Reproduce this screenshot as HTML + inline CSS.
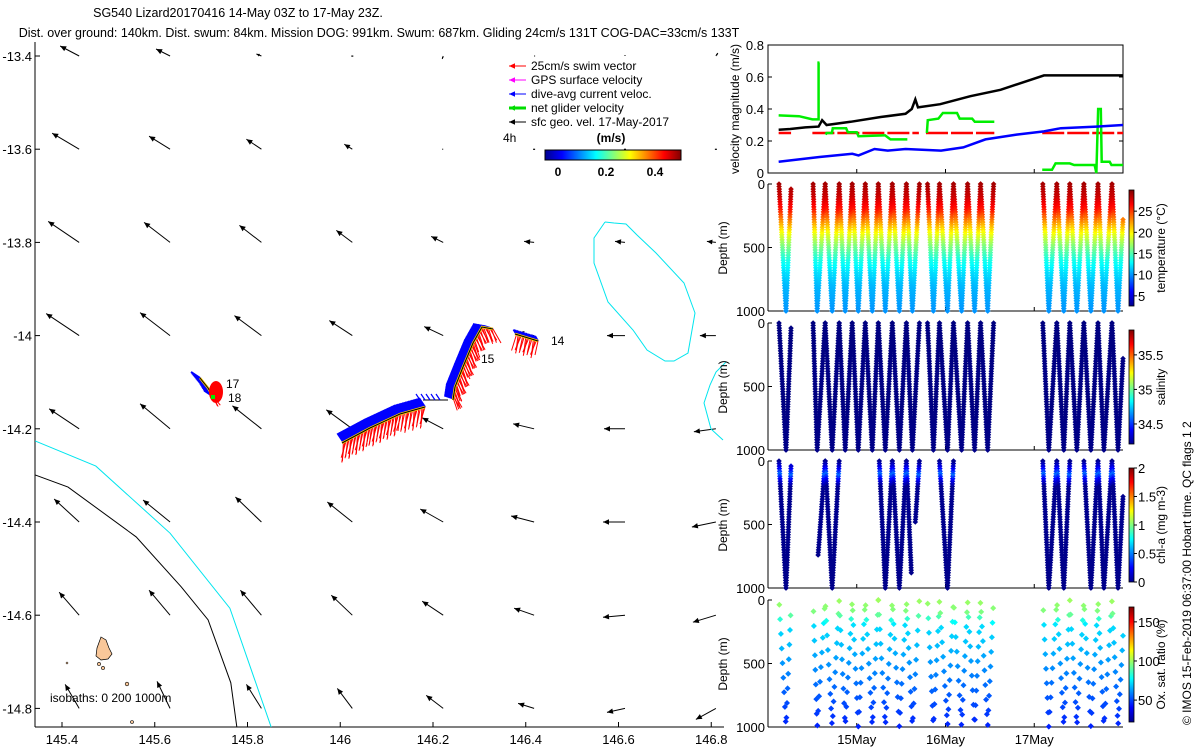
<!DOCTYPE html>
<html><head><meta charset="utf-8">
<style>
html,body{margin:0;padding:0;background:#fff;}
svg{display:block;font-family:"Liberation Sans","DejaVu Sans",sans-serif;}
</style></head>
<body>
<svg id="chart" width="1200" height="750" viewBox="0 0 1200 750" xmlns="http://www.w3.org/2000/svg">
<defs>
<linearGradient id="jetH" x1="0" x2="1" y1="0" y2="0">
<stop offset="0" stop-color="#00008f"/><stop offset="0.125" stop-color="#0000ff"/><stop offset="0.375" stop-color="#00ffff"/><stop offset="0.625" stop-color="#ffff00"/><stop offset="0.875" stop-color="#ff0000"/><stop offset="1" stop-color="#800000"/>
</linearGradient>
<linearGradient id="jetV" x1="0" x2="0" y1="1" y2="0">
<stop offset="0" stop-color="#00008f"/><stop offset="0.125" stop-color="#0000ff"/><stop offset="0.375" stop-color="#00ffff"/><stop offset="0.625" stop-color="#ffff00"/><stop offset="0.875" stop-color="#ff0000"/><stop offset="1" stop-color="#800000"/>
</linearGradient>
</defs>
<text x="238" y="17" font-size="12.5" text-anchor="middle">SG540 Lizard20170416 14-May 03Z to 17-May 23Z.</text>
<text x="379" y="37" font-size="12.5" text-anchor="middle">Dist. over ground: 140km. Dist. swum: 84km. Mission DOG: 991km. Swum: 687km. Gliding 24cm/s 131T COG-DAC=33cm/s 133T</text>

<g id="map"></g>
<g id="isob">
<polyline fill="none" stroke="#00e5ee" stroke-width="1" points="605,222 614,223 626,224 637,235 656,253 684,283 695,313 688,353 674,361 665,361 647,350 633,330 608,302 594,263 594,238 605,222"/>
<polyline fill="none" stroke="#00e5ee" stroke-width="1" points="726,362 716,372 710,385 704,403 711,429 723,440"/>
<path d="M101,637 L106,640 L109,648 L112,654 L108,659 L101,660 L96,656 L97,648 Z" fill="#f9c799" stroke="#000" stroke-width="0.7"/>
<circle cx="99" cy="664" r="1.6" fill="#f9c799" stroke="#000" stroke-width="0.6"/>
<circle cx="103" cy="668" r="1.6" fill="#f9c799" stroke="#000" stroke-width="0.6"/>
<circle cx="127" cy="684" r="1.8" fill="#f9c799" stroke="#000" stroke-width="0.6"/>
<circle cx="132" cy="722" r="1.5" fill="#f9c799" stroke="#000" stroke-width="0.6"/>
<circle cx="67" cy="663" r="1" fill="#f9c799" stroke="#000" stroke-width="0.5"/>
</g>
<text x="50" y="702" font-size="12">isobaths: 0   200  1000m</text>

<g id="track"></g>
<text x="226" y="388" font-size="12">17</text>
<text x="228" y="402" font-size="12">18</text>
<text x="481" y="363" font-size="12">15</text>
<text x="551" y="345" font-size="12">14</text>

<g id="legend"></g>

<g id="vel"></g>
<g id="prof"></g>
<text transform="translate(1191,725) rotate(-90)" font-size="12">© IMOS 15-Feb-2019 06:37:00 Hobart time. QC flags 1  2</text>
</svg>
<script>
// ---------- data ----------
const geoLon = [145.437,145.633,145.830,146.026,146.222,146.418,146.614,146.810];
const geoLat = [-13.4,-13.6,-13.8,-14.0,-14.2,-14.4,-14.6,-14.8];
const geoU = [
 [-19,-14,-5,0,-1,1,0,2],
 [-27,-21,-15,-8,-1,0,0,0],
 [-31,-26,-22,-16,-12,-10,-10,-9],
 [-33,-30,-27,-23,-19,-16,-18,-16],
 [-30,-30,-29,-26,-21,-21,-21,-22],
 [-25,-27,-26,-25,-23,-23,-22,-24],
 [-20,-21,-21,-21,-21,-20,-22,-23],
 [-14,-13,-15,-15,-17,-16,-18,-20]];
const geoV = [
 [10,7,2,0,-3,0,1,3],
 [16,13,10,5,0,0,0,0],
 [21,20,17,12,6,1,1,1],
 [22,23,20,15,9,3,0,0],
 [20,25,23,19,11,5,0,-3],
 [23,22,25,20,13,6,0,-5],
 [23,25,25,20,14,7,-2,-7],
 [24,27,24,20,13,5,-4,-11]];
const latTicks = [-13.4,-13.6,-13.8,-14,-14.2,-14.4,-14.6,-14.8];
const lonTicks = [145.4,145.6,145.8,146,146.2,146.4,146.6,146.8];
const isoBlackLon = [145.342,145.413,145.560,145.657,145.715,145.764,145.777];
const isoBlackLat = [-14.299,-14.325,-14.432,-14.539,-14.610,-14.745,-14.840];
const isoCyanLon = [145.342,145.473,145.633,145.762,145.851];
const isoCyanLat = [-14.226,-14.280,-14.424,-14.585,-14.840];

const velTicks = [0,0.2,0.4,0.6,0.8];
const blackT = [0.12,0.25,0.42,0.57,0.61,0.66,0.93,1.27,1.55,1.62,1.66,1.69,1.94,2.28,2.62,3.11,4.0];
const blackV = [0.27,0.275,0.285,0.29,0.33,0.30,0.32,0.35,0.37,0.40,0.46,0.41,0.43,0.48,0.52,0.61,0.61];
const blueT = [0.12,0.58,0.95,1.02,1.2,1.35,1.55,1.95,2.2,2.45,2.8,3.11,3.3,3.7,4.0];
const blueV = [0.07,0.10,0.12,0.11,0.15,0.14,0.15,0.14,0.16,0.21,0.24,0.26,0.28,0.29,0.30];
const redSegStart = [0.12,0.5,1.78,3.09];
const redSegEnd = [0.26,1.7,2.55,4.0];
const redV = 0.25;
const greenT = [
 [0.12,0.35,0.5,0.57,0.57,0.58],
 [0.65,0.66,0.72,0.73,0.88,0.9,1.0,1.02,1.3,1.32,1.38,1.57],
 [1.79,1.8,1.92,1.97,2.13,2.16,2.3,2.33,2.55],
 [3.09,3.2,3.24,3.4,3.45,3.68,3.7,3.72,3.75,3.76,3.85,3.87,4.0]];
const greenV = [
 [0.36,0.355,0.335,0.335,0.69,0.69],
 [0.24,0.25,0.25,0.28,0.28,0.255,0.255,0.23,0.235,0.235,0.21,0.21],
 [0.25,0.33,0.34,0.375,0.375,0.34,0.34,0.32,0.32],
 [0.02,0.02,0.06,0.06,0.05,0.05,0.0,0.40,0.40,0.07,0.07,0.05,0.05]];

const diveT = [
 [0.124,0.203,0.260],
 [0.508,0.554,0.644,0.723,0.802,0.870,0.949,1.017,1.096,1.175,1.243,1.322,1.401,1.480,1.559,1.627,1.706],
 [1.797,1.864,1.932,2.023,2.090,2.181,2.249,2.328,2.395,2.475,2.542],
 [3.096,3.164,3.254,3.333,3.401,3.480,3.559,3.638,3.718,3.785,3.876,3.944,4.0]];
const diveD = [
 [0,1000,30],
 [0,1000,0,1000,0,1000,0,1000,0,1000,0,1000,0,1000,0,1000,0],
 [0,1000,0,1000,0,1000,0,1000,0,1000,0],
 [0,1000,0,1000,0,1000,0,1000,0,1000,0,1000,280]];
const chlT = [
 [0.124,0.203,0.260],[0.565,0.644,0.723,0.802],[1.254,1.322,1.401,1.480,1.559,1.615],[1.660,1.706],
 [1.932,2.023,2.090],[3.096,3.164,3.254,3.333,3.401],[3.559,3.638,3.718,3.785,3.876,3.944,4.0]];
const chlD = [
 [0,1000,30],[740,0,1000,0],[0,1000,0,1000,0,880],[480,0],
 [0,1000,0],[0,1000,0,1000,0],[0,1000,0,1000,0,1000,280]];
const tempDepth = [0,100,200,300,400,500,600,700,800,900,1000];
const tempVal = [29,28,26,22.5,19,16,13.5,12,11,10.5,10];
const salDepth = [0,200,400,600,800,1000];
const salVal = [34.2,34.21,34.22,34.21,34.22,34.22];
const chlDepth = [0,50,100,150,200,1000];
const chlVal = [0.03,0.2,0.45,0.2,0.03,0.02];
const oxDepth = [0,100,200,300,500,700,1000];
const oxVal = [100,95,72,70,62,55,45];
const dayTicks = [1,2,3];
const dayLabels = ['15May','16May','17May'];
const tempCbTicks = [5,10,15,20,25];
const salCbTicks = [34.5,35,35.5];
const chlCbTicks = [0,0.5,1,1.5,2];
const oxCbTicks = [50,100,150];
const depthTicks = [0,500,1000];

// ---------- helpers ----------
const NS='http://www.w3.org/2000/svg';
function mk(tag,parent,attrs){const e=document.createElementNS(NS,tag);for(const k in attrs)e.setAttribute(k,attrs[k]);parent.appendChild(e);return e;}
function clamp(v){return Math.max(0,Math.min(1,v));}
function jet(v){v=clamp(v);const r=clamp(1.5-Math.abs(4*v-3)),g=clamp(1.5-Math.abs(4*v-2)),b=clamp(1.5-Math.abs(4*v-1));return `rgb(${Math.round(r*255)},${Math.round(g*255)},${Math.round(b*255)})`;}
function interp(xs,ys,x){if(x<=xs[0])return ys[0];for(let i=1;i<xs.length;i++){if(x<=xs[i]){const f=(x-xs[i-1])/(xs[i]-xs[i-1]);return ys[i-1]+f*(ys[i]-ys[i-1]);}}return ys[ys.length-1];}

// ---------- map ----------
const map=document.getElementById('map');
const mx=lon=>62+(lon-145.4)/0.2*92.75;
const my=lat=>56+(-13.4-lat)/0.2*93.2;
const axL=35, axB=727, axR=724;
let ln=mk('line',map,{x1:axL,y1:42,x2:axL,y2:axB,stroke:'#000','stroke-width':1});

ln=mk('line',map,{x1:axL,y1:axB,x2:axR,y2:axB,stroke:'#000','stroke-width':1});

latTicks.forEach(t=>{const y=my(t);
 const tk=mk('line',map,{x1:axL,y1:y,x2:axL+5,y2:y,stroke:'#000'});
 
 const tx=mk('text',map,{x:axL-3,y:y+5,'font-size':13,'text-anchor':'end'});tx.textContent=String(t);
 });
lonTicks.forEach(t=>{const x=mx(t);
 const tk=mk('line',map,{x1:x,y1:axB,x2:x,y2:axB-5,stroke:'#000'});
 
 const tx=mk('text',map,{x:x,y:axB+17,'font-size':13,'text-anchor':'middle'});tx.textContent=String(t);
 });
const isoB=mk('polyline',map,{fill:'none',stroke:'#000','stroke-width':1,points:isoBlackLon.map((l,i)=>mx(l)+','+my(isoBlackLat[i])).join(' ')});

const isoC=mk('polyline',map,{fill:'none',stroke:'#00e5ee','stroke-width':1,points:isoCyanLon.map((l,i)=>mx(l)+','+my(isoCyanLat[i])).join(' ')});

function arrow(parent,x0,y0,dx,dy,color,w,hs,name){
 const g=mk('g',parent,{});
 
 const x1=x0+dx,y1=y0+dy;const L=Math.hypot(dx,dy);if(L<0.5){mk('rect',g,{x:x0-1,y:y0-0.5,width:2,height:1.2,fill:color});return g;}
 mk('line',g,{x1:x0,y1:y0,x2:x1,y2:y1,stroke:color,'stroke-width':w});
 const ux=dx/L,uy=dy/L,h=Math.min(hs,L*0.6);
 const bx=x1-ux*h,by=y1-uy*h,px=-uy*h*0.45,py=ux*h*0.45;
 mk('polygon',g,{points:`${x1},${y1} ${bx+px},${by+py} ${bx-px},${by-py}`,fill:color});
 return g;}
geoLat.forEach((lat,i)=>geoLon.forEach((lon,j)=>{
 arrow(map,mx(lon),my(lat),geoU[i][j],-geoV[i][j],'#000',1,6,'geo-velocity-arrow');}));

// ---------- glider track ----------
const track=document.getElementById('track');
const segs=[
 {p:[[538,341],[515,334]],bl:[-3,-5],rd:[-4,14]},
 {p:[[493,329],[482,327],[473,343],[463,367],[455,387],[453,400]],bl:[-9,-3],rd:[6,12]},
 {p:[[425,407],[400,414],[370,428],[342,443]],bl:[-6,-9],rd:[-3,17]},
 {p:[[200,378],[208,388],[214,398]],bl:[-9,-6],rd:[6,8]}];
segs.forEach((s,si)=>{
 const g=mk('g',track,{});
 for(let k=1;k<s.p.length;k++){const [x0,y0]=s.p[k-1],[x1,y1]=s.p[k];const L=Math.hypot(x1-x0,y1-y0);const n=Math.max(2,Math.round(L/1.6));
  for(let m=0;m<n;m++){const f=m/n;const x=x0+(x1-x0)*f,y=y0+(y1-y0)*f;const q=(m*7+k*3+si)%5;
   mk('line',g,{x1:x,y1:y,x2:x+s.rd[0]+q-2,y2:y+s.rd[1]+(q%3)*2,stroke:'#ff0000','stroke-width':1});
   mk('line',g,{x1:x,y1:y,x2:x+s.bl[0],y2:y+s.bl[1],stroke:'#0000ff','stroke-width':2});}}
 mk('polyline',g,{points:s.p.map(p=>p.join(',')).join(' '),fill:'none',stroke:'#ffd000','stroke-width':2.5});
 mk('polyline',g,{points:s.p.map(p=>p.join(',')).join(' '),fill:'none',stroke:'#000','stroke-width':1});});
{const g=mk('g',track,{});
 mk('line',g,{x1:423,y1:400,x2:448,y2:400,stroke:'#000'});
 for(let k=0;k<5;k++)mk('line',g,{x1:420+k*5,y1:400,x2:416+k*5,y2:394,stroke:'#0000ff','stroke-width':1.2});
 mk('ellipse',g,{cx:216,cy:392,rx:7,ry:11,fill:'#ff0000'});
 mk('rect',g,{x:211,y:395,width:4,height:4,fill:'#00ee00'});}

// ---------- legend ----------
const leg=document.getElementById('legend');
const legItems=[['25cm/s swim vector','#ff0000',1],['GPS surface velocity','#ff00ff',1],['dive-avg current veloc.','#0000ff',1],['net glider velocity','#00dd00',3],['sfc geo. vel. 17-May-2017','#000',1]];
legItems.forEach((it,i)=>{const y=66+i*14;
 arrow(leg,526,y,-17,0,it[1],it[2],6,'legend-entry-swatch');
 const t=mk('text',leg,{x:531,y:y+4,'font-size':12});t.textContent=it[0];
 });
let tt=mk('text',leg,{x:503,y:142,'font-size':12});tt.textContent='4h';

tt=mk('text',leg,{x:611,y:142,'font-size':12,'font-weight':'bold','text-anchor':'middle'});tt.textContent='(m/s)';

let cb=mk('rect',leg,{x:545,y:150,width:136,height:10,fill:'url(#jetH)',stroke:'#000','stroke-width':1});

[[0,558],[0.2,606],[0.4,655]].forEach(v=>{const t=mk('text',leg,{x:v[1],y:176,'font-size':12,'font-weight':'bold','text-anchor':'middle'});t.textContent=String(v[0]);
 });

// ---------- velocity panel ----------
const vel=document.getElementById('vel');
const PX0=768,PX1=1123;
const tx=t=>PX0+t/4*(PX1-PX0);
const vy=v=>173-v/0.8*128;
let fr=mk('rect',vel,{x:PX0,y:45,width:PX1-PX0,height:128,fill:'none',stroke:'#000'});

velTicks.forEach(v=>{const y=vy(v);
 mk('line',vel,{x1:PX0,y1:y,x2:PX0+4,y2:y,stroke:'#000'});mk('line',vel,{x1:PX1,y1:y,x2:PX1-4,y2:y,stroke:'#000'});
 const t=mk('text',vel,{x:PX0-4,y:y+5,'font-size':13,'text-anchor':'end'});t.textContent=String(v);
 });
dayTicks.forEach(d=>{mk('line',vel,{x1:tx(d),y1:173,x2:tx(d),y2:169,stroke:'#000'});});
let vt=mk('text',vel,{transform:'translate(739,109) rotate(-90)','font-size':12,'text-anchor':'middle'});vt.textContent='velocity magnitude (m/s)';

for(let i=0;i<redSegStart.length;i++){const l=mk('line',vel,{x1:tx(redSegStart[i]),y1:vy(redV),x2:tx(redSegEnd[i]),y2:vy(redV),stroke:'#ff0000','stroke-width':2.5,'stroke-dasharray':'22 3'});
 }
greenT.forEach((ts,i)=>{const l=mk('polyline',vel,{fill:'none',stroke:'#00ee00','stroke-width':2.5,points:ts.map((t,k)=>tx(t)+','+vy(greenV[i][k])).join(' ')});
 });
let bl=mk('polyline',vel,{fill:'none',stroke:'#0000ff','stroke-width':2.5,points:blueT.map((t,k)=>tx(t)+','+vy(blueV[k])).join(' ')});

let bk=mk('polyline',vel,{fill:'none',stroke:'#000','stroke-width':2.5,points:blackT.map((t,k)=>tx(t)+','+vy(blackV[k])).join(' ')});


// ---------- profile panels ----------
const prof=document.getElementById('prof');
const panels=[
 {top:184,name:'temperature-panel',T:diveT,D:diveD,pd:tempDepth,pv:tempVal,lo:2.6,hi:30,ticks:tempCbTicks,title:'temperature (°C)',step:20,cb:[190,306]},
 {top:323,name:'salinity-panel',T:diveT,D:diveD,pd:salDepth,pv:salVal,lo:34.21,hi:35.86,ticks:salCbTicks,title:'salinity',step:20,cb:[330,444]},
 {top:461,name:'chlorophyll-panel',T:chlT,D:chlD,pd:chlDepth,pv:chlVal,lo:0,hi:2,ticks:chlCbTicks,title:'chl-a (mg m-3)',step:20,cb:[468,582]},
 {top:600,name:'oxygen-panel',T:diveT,D:diveD,pd:oxDepth,pv:oxVal,lo:22,hi:169,ticks:oxCbTicks,title:'Ox. sat. ratio (%)',step:115,cb:[607,722]}];
panels.forEach((P,pi)=>{
 const g=mk('g',prof,{});
 const dy=d=>P.top+d/1000*127;
 const bot=P.top+127;
 mk('line',g,{x1:PX0,y1:P.top,x2:PX0,y2:bot,stroke:'#000'});
 mk('line',g,{x1:PX0,y1:bot,x2:PX1,y2:bot,stroke:'#000'});
 depthTicks.forEach(d=>{mk('line',g,{x1:PX0,y1:dy(d),x2:PX0+4,y2:dy(d),stroke:'#000'});
  const t=mk('text',g,{x:PX0-3,y:dy(d)+5,'font-size':13,'text-anchor':'end'});t.textContent=String(d);
  });
 dayTicks.forEach(d=>mk('line',g,{x1:tx(d),y1:bot,x2:tx(d),y2:bot-4,stroke:'#000'}));
 const yt=mk('text',g,{transform:`translate(727,${P.top+64}) rotate(-90)`,'font-size':12,'text-anchor':'middle'});yt.textContent='Depth (m)';
 
 const cbr=mk('rect',g,{x:1129,y:P.cb[0],width:5,height:P.cb[1]-P.cb[0],fill:'url(#jetV)',stroke:'#000','stroke-width':0.8});
 
 const cy=v=>P.cb[1]-(v-P.lo)/(P.hi-P.lo)*(P.cb[1]-P.cb[0]);
 P.ticks.forEach(v=>{mk('line',g,{x1:1134,y1:cy(v),x2:1137,y2:cy(v),stroke:'#000'});
  const t=mk('text',g,{x:1138,y:cy(v)+5,'font-size':13});t.textContent=String(v);
  });
 const ct=mk('text',g,{transform:`translate(1165,${(P.cb[0]+P.cb[1])/2}) rotate(-90)`,'font-size':12,'text-anchor':'middle'});ct.textContent=P.title;
 
 P.T.forEach((ts,gi)=>{for(let k=1;k<ts.length;k++){const t0=ts[k-1],t1=ts[k],d0=P.D[gi][k-1],d1=P.D[gi][k];
  const span=Math.abs(d1-d0);const off=pi===3?((k*37+gi*53)%P.step):0;
  for(let s=off;s<=span;s+=P.step){const f=span?s/span:0;const d=d0+(d1-d0)*f;const t=t0+(t1-t0)*f;
   const val=interp(P.pd,P.pv,d);const x=tx(t),y=dy(d);const r=pi===3?3:2.8;
   const m=mk('path',g,{d:`M${x.toFixed(1)},${(y-r).toFixed(1)}l${r},${r}l${-r},${r}l${-r},${-r}z`,fill:jet((val-P.lo)/(P.hi-P.lo))});
   }}});
});
dayTicks.forEach((d,i)=>{const t=mk('text',prof,{x:tx(d),y:744,'font-size':13,'text-anchor':'middle'});t.textContent=dayLabels[i];
 });
</script>
</body></html>
